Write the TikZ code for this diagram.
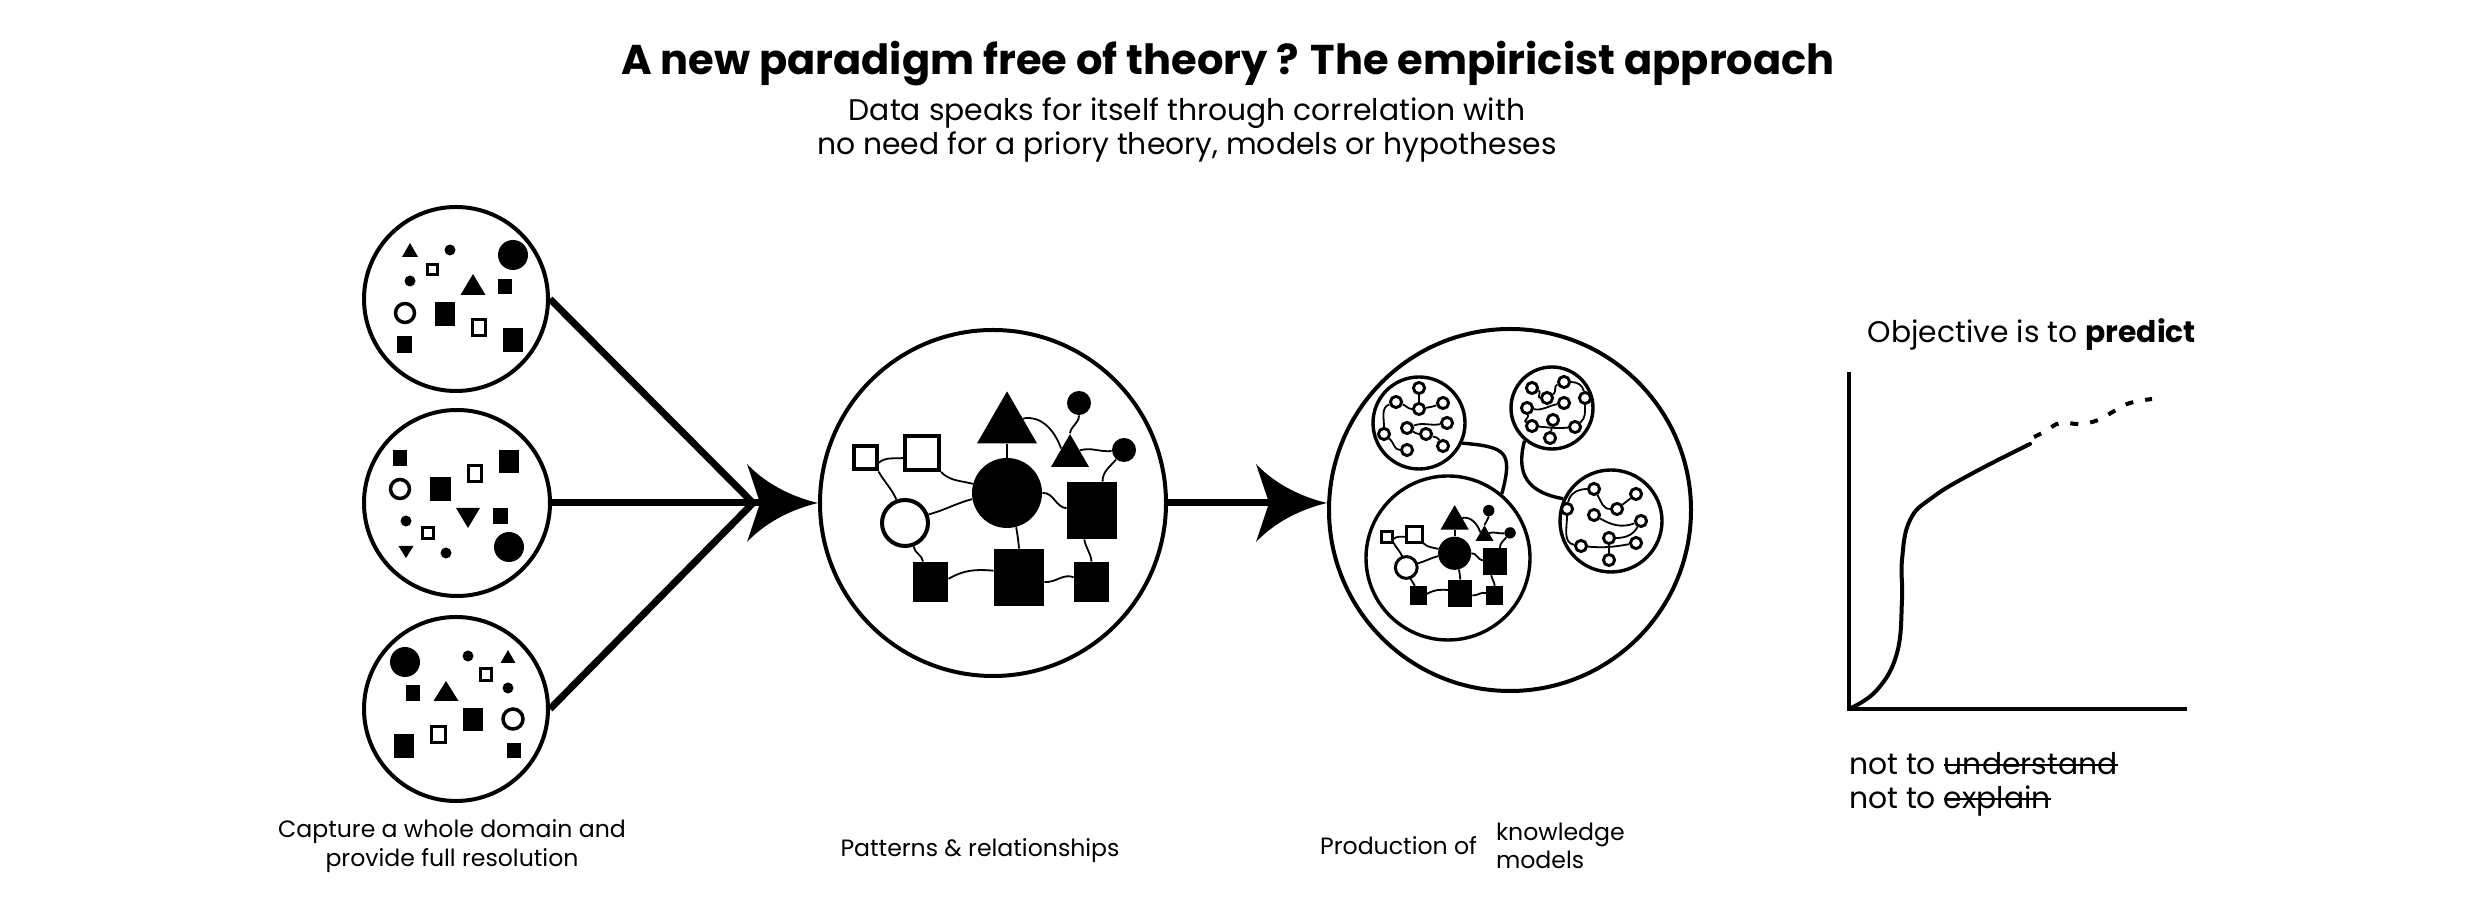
\documentclass[tikz,border=0pt]{standalone}
\usepackage{fontspec}
\setmainfont{Poppins}
\usetikzlibrary{shapes.geometric}

\newlength\mystrikelen
\newcommand\mystrike[1]{\settowidth{\mystrikelen}{#1}\rlap{\rule[0.27em]{\mystrikelen}{1.1pt}}#1}

\pgfdeclarearrow{
  name = CurvedHead,
  setup code = {
    \pgfarrowssettipend{35.5pt}
    \pgfarrowssetlineend{9pt}
    \pgfarrowssetbackend{0pt}
    \pgfarrowssetvisualbackend{6.5pt}
    \pgfarrowshullpoint{35.5pt}{0pt}
    \pgfarrowsupperhullpoint{0pt}{19.5pt}
  },
  drawing code = {
    \pgfpathmoveto{\pgfqpoint{35.5pt}{0pt}}
    \pgfpathcurveto{\pgfqpoint{25pt}{2.5pt}}{\pgfqpoint{11pt}{8pt}}{\pgfqpoint{0pt}{19.5pt}}
    \pgfpathlineto{\pgfqpoint{6.5pt}{0pt}}
    \pgfpathlineto{\pgfqpoint{0pt}{-19.5pt}}
    \pgfpathcurveto{\pgfqpoint{11pt}{-8pt}}{\pgfqpoint{25pt}{-2.5pt}}{\pgfqpoint{35.5pt}{0pt}}
    \pgfpathclose
    \pgfusepathqfill
  }
}

\newcommand\myfsq[4]{\fill ({#1-(#3)/2},{#2-(#4)/2}) rectangle ++(#3,#4);}
\newcommand\myosq[4]{\draw[line width=1.5pt] ({#1-(#3)/2+1.5},{#2-(#4)/2+1.5}) rectangle ++({#3-3},{#4-3});}
\newcommand\mydot[3]{\fill (#1,#2) circle[radius=#3];}
\newcommand\myring[3]{\draw[line width=1.75pt] (#1,#2) circle[radius=#3];}
\newcommand\mytri[4]{\fill (#1,#2) -- ({#1-#4},#3) -- ({#1+#4},#3) -- cycle;}

\tikzset{
  bigring/.style={circle, draw, line width=2pt, inner sep=0pt},
  subring/.style={circle, draw, line width=1.7pt, inner sep=0pt, fill=white},
  feeder/.style={line width=3.5pt},
  bigarrow/.style={line width=3.5pt, -{CurvedHead}},
  netnode/.style={circle, draw, line width=1.45pt, minimum size=5.6pt, inner sep=0pt, fill=white},
  netlink/.style={line width=0.9pt},
  sublink/.style={line width=1.7pt},
  patfill/.style={fill, inner sep=0pt},
  patopen/.style={draw, rectangle, fill=white, inner sep=0pt},
  patlink/.style={line width=0.9pt},
  titletext/.style={font=\fontsize{20.8}{24}\selectfont\bfseries},
  subtext/.style={font=\fontsize{14.9}{16.8}\selectfont, align=center},
  labtext/.style={font=\fontsize{11.8}{14.2}\selectfont, align=center},
  righttext/.style={font=\fontsize{14.9}{17}\selectfont},
  pics/pattern/.style={code={
    \node[patopen, line width=#1, minimum size=11.5pt] (-osq1) at (-128,45) {};
    \node[patopen, line width=#1, minimum size=17pt] (-osq2) at (-71,50) {};
    \node[patopen, circle, line width=#1, minimum size=23pt] (-ocirc) at (-88,-20) {};
    \node[patfill, circle, minimum size=35pt] (-bcirc) at (14,10) {};
    \node[patfill, regular polygon, regular polygon sides=3, minimum size=34.6pt] (-btri) at (14,77) {};
    \node[patfill, regular polygon, regular polygon sides=3, minimum size=22pt] (-stri) at (77,47) {};
    \node[patfill, circle, minimum size=12pt] (-sc1) at (86,100) {};
    \node[patfill, circle, minimum size=12pt] (-sc2) at (131,53) {};
    \node[patfill, minimum width=25pt, minimum height=28.5pt] (-fsq1) at (99,-7.5) {};
    \node[patfill, minimum width=17.5pt, minimum height=20pt] (-fsq2) at (-62.5,-79) {};
    \node[patfill, minimum width=25pt, minimum height=28.5pt] (-fsq3) at (26,-74.5) {};
    \node[patfill, minimum width=17.5pt, minimum height=20pt] (-fsq4) at (98.5,-79) {};
    \draw[patlink] (-osq1.-20) to[out=40, in=185] (-osq2.195);
    \draw[patlink] (-osq1.south east) to[out=-60, in=115] (-ocirc.110);
    \draw[patlink] (-osq2.south east) to[out=-45, in=165] (-bcirc.165);
    \draw[patlink] (-ocirc.20) to[out=15, in=195] (-bcirc.190);
    \draw[patlink] (-btri.south) -- (-bcirc.north);
    \draw[patlink] (-btri.25) to[out=10, in=110] (-stri.140);
    \draw[patlink] (-sc1.south) to[out=-90, in=80] (-stri.corner 1);
    \draw[patlink] (-stri.30) to[out=15, in=185] (-sc2.185);
    \draw[patlink] (-sc2.230) to[out=-130, in=90] (-fsq1.70);
    \draw[patlink] (-bcirc.east) to[out=5, in=175] (-fsq1.175);
    \draw[patlink] (-bcirc.-75) to[out=-80, in=95] (-fsq3.north);
    \draw[patlink] (-ocirc.-70) to[out=-80, in=100] (-fsq2.110);
    \draw[patlink] (-fsq2.10) to[out=30, in=175] (-fsq3.165);
    \draw[patlink] (-fsq3.-10) to[out=-5, in=160] (-fsq4.165);
    \draw[patlink] (-fsq1.-105) to[out=-80, in=95] (-fsq4.north);
  }}
}

\begin{document}
\begin{tikzpicture}[x=0.5pt, y=0.5pt]
\useasboundingbox (0,0) rectangle (2480,904);

% texts
\node[titletext] (title) at (1228,840) {A new paradigm free of theory ? The empiricist approach};
\node[subtext] (subtitle) at (1187,774) {Data speaks for itself through correlation with\\no need for a priory theory, models or hypotheses};

% left circles
\node[bigring, minimum size=92pt] (d1) at (456,605) {};
\node[bigring, minimum size=93pt] (d2) at (457,401) {};
\node[bigring, minimum size=92pt] (d3) at (456,195) {};

% circle 1 content
\mytri{410}{661}{647}{8}
\mydot{450}{654}{5.5}
\mydot{513}{649}{15}
\myosq{432}{634}{13}{13}
\mydot{410}{623}{5.5}
\mytri{473}{630}{609}{12.5}
\myfsq{505}{617}{14}{15}
\myring{405}{591}{9.5}
\myfsq{445}{590}{20}{24}
\myosq{479}{576}{16}{19}
\myfsq{404}{559}{15}{17}
\myfsq{513}{564}{20}{24}

% circle 2 content
\myfsq{400}{446}{14}{16}
\myfsq{509}{442}{20}{23}
\myosq{475}{430}{16}{19}
\myring{400}{415}{9.5}
\myfsq{440}{415}{21}{24}
\mydot{406}{383}{5.5}
\mytri{468}{376}{396}{12}
\myfsq{500}{388}{15}{16}
\myosq{428}{371}{14}{14}
\mydot{509}{357}{15}
\mytri{406}{346}{358}{7.5}
\mydot{446}{351}{5.5}

% circle 3 content
\mydot{405}{242}{15}
\mydot{468}{248}{5.5}
\mytri{508}{254}{241}{7.5}
\myosq{486}{229}{14}{15}
\myfsq{413}{211}{14}{16}
\mytri{446}{223}{203}{12.5}
\mydot{508}{216}{5.5}
\myfsq{473}{184}{20}{23}
\myring{513}{185}{10}
\myosq{438}{169}{17}{19}
\myfsq{404}{158}{20}{24}
\myfsq{514}{153}{14}{15}

% patterns circle
\node[bigring, minimum size=173pt] (P) at (993,401) {};
\pic (patA) at (993,401) {pattern=2pt};

% knowledge circle
\node[bigring, minimum size=181pt] (K) at (1510,394) {};
\node[subring, minimum size=46pt] (subTL) at (1419,481) {};
\node[subring, minimum size=41pt] (subTR) at (1552,496) {};
\node[subring, minimum size=51pt] (subR) at (1611,383) {};
\node[subring, minimum size=82pt] (subBL) at (1448,346) {};
\pic[scale=0.474, transform shape] (patB) at (1448,346) {pattern=1.5pt};

\draw[sublink] (subTL.-25) to[out=-5, in=75, looseness=1.75] (subBL.50);
\draw[sublink] (subTR.-130) to[out=-105, in=170, looseness=1.3] (subR.155);

% network TL
\node[netnode] (na1) at (1419,516) {};
\node[netnode] (na2) at (1396,502) {};
\node[netnode] (na3) at (1443,501) {};
\node[netnode] (na4) at (1419,495) {};
\node[netnode] (na5) at (1447,481) {};
\node[netnode] (na6) at (1407,476) {};
\node[netnode] (na7) at (1426,470) {};
\node[netnode] (na8) at (1384,470) {};
\node[netnode] (na9) at (1407,454) {};
\node[netnode] (na10) at (1443,458) {};
\draw[netlink] (na2) to[out=-20, in=180] (na4);
\draw[netlink] (na1) -- (na4);
\draw[netlink] (na4) to[out=10, in=200] (na3);
\draw[netlink] (na8) to[out=90, in=200] (na2);
\draw[netlink] (na6) to[out=20, in=190] (na5);
\draw[netlink] (na6) to[out=-30, in=180] (na7);
\draw[netlink] (na7) to[out=-20, in=120] (na10);
\draw[netlink] (na8) to[out=-40, in=180] (na9);

% network TR
\node[netnode] (nb1) at (1532,516) {};
\node[netnode] (nb2) at (1564,522) {};
\node[netnode] (nb3) at (1547,506) {};
\node[netnode] (nb4) at (1564,501) {};
\node[netnode] (nb5) at (1585,506) {};
\node[netnode] (nb6) at (1527,496) {};
\node[netnode] (nb7) at (1553,484) {};
\node[netnode] (nb8) at (1532,478) {};
\node[netnode] (nb9) at (1575,477) {};
\node[netnode] (nb10) at (1550,466) {};
\draw[netlink] (nb1) to[out=-20, in=180] (nb3);
\draw[netlink] (nb3) to[out=30, in=200] (nb2);
\draw[netlink] (nb2) to[out=0, in=100] (nb5);
\draw[netlink] (nb5) to[out=-90, in=40] (nb9);
\draw[netlink] (nb6) to[out=-10, in=190] (nb4);
\draw[netlink] (nb6) to[out=-80, in=150] (nb8);
\draw[netlink] (nb8) to[out=-5, in=185] (nb9);
\draw[netlink] (nb7) -- (nb10);

% network R
\node[netnode] (nc1) at (1594,415) {};
\node[netnode] (nc2) at (1636,410) {};
\node[netnode] (nc3) at (1567,395) {};
\node[netnode] (nc4) at (1617,395) {};
\node[netnode] (nc5) at (1594,389) {};
\node[netnode] (nc6) at (1641,383) {};
\node[netnode] (nc7) at (1609,366) {};
\node[netnode] (nc8) at (1581,358) {};
\node[netnode] (nc9) at (1636,361) {};
\node[netnode] (nc10) at (1609,344) {};
\draw[netlink] (nc3) to[out=80, in=180] (nc1);
\draw[netlink] (nc1) to[out=-60, in=180] (nc4);
\draw[netlink] (nc4) -- (nc2);
\draw[netlink] (nc5) to[out=-30, in=200] (nc6);
\draw[netlink] (nc3) to[out=-90, in=170] (nc8);
\draw[netlink] (nc8) to[out=-5, in=190] (nc9);
\draw[netlink] (nc7) to[out=0, in=-120] (nc6);
\draw[netlink] (nc7) -- (nc10);

% arrows
\coordinate (J) at (753,401);
\draw[feeder] (d1.east) -- (J);
\draw[feeder] (d3.east) -- (J);
\draw[bigarrow] (d2.east) -- (P.west);
\draw[bigarrow] (P.east) -- (P.east -| K.west);

% labels
\node[labtext] (lab1) at (452,58) {Capture a whole domain and\\provide full resolution};
\node[labtext] (lab2) at (980,53) {Patterns \& relationships};
\node[labtext, anchor=east] (lab3a) at (1484,58) {Production of};
\node[labtext, anchor=west, align=left] (lab3b) at (1489,58) {knowledge\\models};

% graph
\node[righttext] (obj) at (2032,569) {Objective is to \textbf{predict}};
\coordinate (gtop) at (1849,532);
\coordinate (gorig) at (1849,195);
\coordinate (gright) at (2187,195);
\draw[line width=2pt] (gtop) -- (gorig) -- (gright);
\draw[line width=2pt, line cap=round] plot[smooth, tension=0.7] coordinates {(1849,195) (1877,214) (1897,251) (1902,304) (1902,344) (1910,384) (1933,407) (1973,431) (2030,460)};
\draw[line width=2pt, dash pattern=on 4pt off 6pt] plot[smooth, tension=0.7] coordinates {(2034,467) (2046,473) (2060,481) (2080,480) (2098,484) (2116,494) (2130,501) (2152,505)};
\node[righttext, anchor=west, align=left] (notto) at (1842,120) {not to \mystrike{understand}\\not to \mystrike{explain}};
\end{tikzpicture}
\end{document}
